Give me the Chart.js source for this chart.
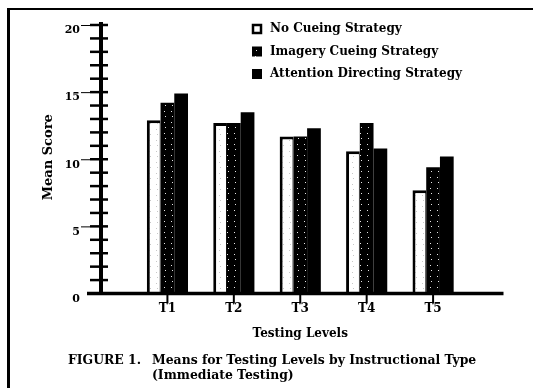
<!DOCTYPE html>
<html>
<head>
<meta charset="utf-8">
<script src="https://cdn.jsdelivr.net/npm/chart.js@4.4.1/dist/chart.umd.min.js"></script>
<style>
  html, body { margin: 0; padding: 0; background: #fff; }
  #wrap { position: relative; width: 533px; height: 388px; overflow: hidden; }
  #frame { position: absolute; left: 7px; top: 8px; width: 600px; height: 400px;
           border-top: 2.5px solid #000; border-left: 3px solid #000; }
  #caption { position: absolute; left: 68px; top: 352px; font: bold 12.4px "DejaVu Serif", serif;
             line-height: 15px; color: #000; white-space: nowrap; }
  #caption .num { display: inline-block; width: 84px; }
</style>
</head>
<body>
<div id="wrap">
  <div id="frame"></div>
  <canvas id="chart" width="533" height="388"></canvas>
  <div id="caption">
    <div><span class="num">FIGURE 1.</span>Means for Testing Levels by Instructional Type</div>
    <div><span class="num"></span>(Immediate Testing)</div>
  </div>
</div>
<script>
// data
const categories = ['T1', 'T2', 'T3', 'T4', 'T5'];
const seriesNames = ['No Cueing Strategy', 'Imagery Cueing Strategy', 'Attention Directing Strategy'];
const noCueing = [12.9, 12.7, 11.7, 10.6, 7.7];
const imageryCueing = [14.2, 12.7, 11.7, 12.7, 9.4];
const attentionDirecting = [14.9, 13.5, 12.3, 10.8, 10.2];
const yTickLabels = [0, 5, 10, 15, 20];
const xTitle = 'Testing Levels';
const yTitle = 'Mean Score';

const FONT = '"DejaVu Serif", serif';

// scanned-print look: small speckle patterns
function speckle(bg, fg, dots) {
  const c = document.createElement('canvas');
  c.width = 7; c.height = 11;
  const g = c.getContext('2d');
  g.fillStyle = bg; g.fillRect(0, 0, c.width, c.height);
  g.fillStyle = fg;
  dots.forEach(([a, b]) => g.fillRect(a, b, 1, 1));
  return g.createPattern(c, 'repeat');
}
const whiteFill = speckle('#fff', '#c8c8c8', [[3, 2], [2, 8]]);
const dottedBlack = speckle('#000', '#e6e6e6', [[3, 1], [4, 6]]);

const toPoints = vals => vals.map((v, i) => ({ x: i + 1, y: v }));

const paperAxes = {
  id: 'paperAxes',
  afterDatasetsDraw(chart) {
    const { ctx, chartArea, scales: { x, y } } = chart;
    const x0 = x.getPixelForValue(0);
    const yBase = y.getPixelForValue(0);
    const line = (a, b, c, d) => { ctx.beginPath(); ctx.moveTo(a, b); ctx.lineTo(c, d); ctx.stroke(); };
    ctx.save();
    ctx.strokeStyle = '#000';
    ctx.fillStyle = '#000';

    // unit ticks crossing the y axis
    ctx.lineWidth = 2.5;
    for (let v = y.min; v <= y.max; v++) {
      const py = y.getPixelForValue(v);
      line(x0 - 11, py, x0 + 7, py);
    }
    ctx.lineWidth = 4;
    line(x0, y.getPixelForValue(y.max) - 3, x0, yBase);
    ctx.lineWidth = 3.5;
    line(x0 - 14, yBase, x.getPixelForValue(x.max) + 4, yBase);

    // labelled values
    ctx.font = 'bold 11px ' + FONT;
    ctx.textAlign = 'right';
    ctx.textBaseline = 'top';
    ctx.lineWidth = 1;
    yTickLabels.forEach(v => {
      const py = y.getPixelForValue(v);
      ctx.fillText(String(v), x0 - 21, py);
      if (v > 0) line(x0 - 20, py + 0.5, x0 - 11, py + 0.5);
    });

    // category ticks + labels
    ctx.textAlign = 'center';
    ctx.font = 'bold 12px ' + FONT;
    categories.forEach((c, i) => {
      const px = x.getPixelForValue(i + 1);
      ctx.lineWidth = 2;
      line(px, yBase, px, yBase + 10);
      ctx.fillText(c, px, yBase + 9);
    });

    // axis titles
    ctx.textBaseline = 'middle';
    ctx.fillText(xTitle, (chartArea.left + chartArea.right) / 2, yBase + 40);
    ctx.save();
    ctx.translate(49, (chartArea.top + chartArea.bottom) / 2 - 2);
    ctx.rotate(-Math.PI / 2);
    ctx.font = 'bold 13px ' + FONT;
    ctx.fillText(yTitle, 0, 0);
    ctx.restore();

    // legend, top right
    ctx.textAlign = 'left';
    ctx.font = 'bold 12px ' + FONT;
    chart.data.datasets.forEach((ds, i) => {
      const cy = 29 + i * 22.5;
      ctx.fillStyle = ds.legendFill;
      ctx.fillRect(252, cy - 5, 10, 10);
      if (i === 0) {
        ctx.lineWidth = 2.5;
        ctx.strokeRect(253, cy - 4, 8, 8);
      }
      ctx.fillStyle = '#000';
      ctx.fillText(ds.label, 270, cy);
    });
    ctx.restore();
  }
};

new Chart(document.getElementById('chart'), {
  type: 'bar',
  data: {
    datasets: [
      { label: seriesNames[0], data: toPoints(noCueing), backgroundColor: whiteFill, legendFill: '#fff',
        borderColor: '#000', borderWidth: { top: 3, left: 3, right: 1, bottom: 0 }, borderSkipped: false },
      { label: seriesNames[1], data: toPoints(imageryCueing), backgroundColor: dottedBlack, legendFill: dottedBlack,
        borderWidth: 0 },
      { label: seriesNames[2], data: toPoints(attentionDirecting), backgroundColor: '#000', legendFill: '#000',
        borderWidth: 0 }
    ]
  },
  options: {
    responsive: false,
    animation: false,
    events: [],
    layout: { padding: { left: 101, right: 33.5, top: 25, bottom: 94.5 } },
    datasets: { bar: { barPercentage: 1.0, categoryPercentage: 0.62 } },
    scales: {
      x: { type: 'linear', offset: false, min: 0, max: categories.length + 1, display: false },
      y: { min: 0, max: 20, display: false }
    },
    plugins: { legend: { display: false }, tooltip: { enabled: false }, title: { display: false } }
  },
  plugins: [paperAxes]
});
</script>
</body>
</html>
